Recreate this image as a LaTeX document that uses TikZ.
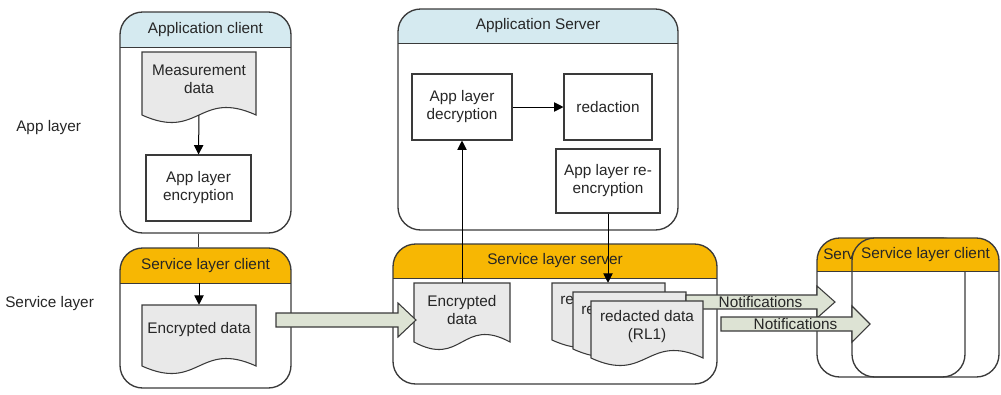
\documentclass[tikz,border=0pt]{standalone}
\usepackage{fontspec}
\setmainfont{Liberation Sans}
\usetikzlibrary{fit,arrows.meta}
\definecolor{hblue}{HTML}{D5EAF0}
\definecolor{horange}{HTML}{F7B703}
\definecolor{docgray}{HTML}{E9E9E9}
\definecolor{arrfill}{HTML}{DDE3D4}
\definecolor{edge}{HTML}{3A3A3A}
\definecolor{txt}{HTML}{262626}
\tikzset{
 panel/.style={draw=edge, line width=1pt, rounded corners=17pt, inner sep=0pt},
 lbl/.style={font=\fontsize{11.5}{13.5}\selectfont, text=txt, align=center, inner sep=0pt},
 procbox/.style={draw=edge, line width=0.8pt, fill=white, inner sep=0pt},
 docedge/.style={draw=edge, line width=0.8pt, fill=docgray},
 conn/.style={draw=black, line width=0.75pt, -{Triangle[length=7pt,width=7pt]}},
 plain/.style={draw=edge, line width=0.75pt},
 fatarrow/.style={draw=edge, line width=0.8pt, fill=arrfill},
}
% name x1 y1 x2 y2 yh color
\newcommand\panelframe[7]{%
 \begin{scope}
 \clip[rounded corners=17pt] (#2,#3) rectangle (#4,#5);
 \fill[#7] (#2,#3) rectangle (#4,#6);
 \end{scope}
 \draw[plain] (#2,#6) -- (#4,#6);
 \coordinate (#1-h) at (#2,#6);
 \node[panel, fit={(#2,#3) (#4,#5)}] (#1) {};
}
% name x1 y1 x2 y2 yh color title
\newcommand\panelbox[8]{%
 \panelframe{#1}{#2}{#3}{#4}{#5}{#6}{#7}
 \node[lbl] (#1-t) at ({(#2+#4)/2},{(#3+#6)/2}) {#8};
}
% name x1 y1 x2 yb
\newcommand\docpath[5]{%
 \path[docedge] (#2,#3) -- (#4,#3) -- (#4,#5) .. controls ({(#2+#4)/2},#5-26) and ({(#2+#4)/2},#5+26) .. (#2,#5) -- cycle;
 \node[inner sep=0pt, fit={(#2,#3) (#4,#5)}] (#1) {};
}
% name x1 y1 x2 yb texty text
\newcommand\docshape[7]{%
 \docpath{#1}{#2}{#3}{#4}{#5}
 \node[lbl] (#1-t) at ({(#2+#4)/2},#6) {#7};
}
% name x1 y1 x2 y2 text
\newcommand\pbox[6]{%
 \node[procbox, fit={(#2,#3) (#4,#5)}] (#1) {};
 \node[lbl] (#1-t) at (#1.center) {#6};
}
% name x1 yc xtip halfhead label
\newcommand\fatarrow[6]{%
 \coordinate (#1-s) at (#2,#3);
 \coordinate (#1-e) at (#4,#3);
 \path[fatarrow] (#2,#3-7) -- (#4-18,#3-7) -- (#4-18,#3-#5) -- (#1-e) -- (#4-18,#3+#5) -- (#4-18,#3+7) -- (#2,#3+7) -- cycle;
 \node[lbl] (#1-t) at ({(#2+#4)/2},#3) {#6};
}
\begin{document}
\begin{tikzpicture}[x=0.75pt,y=-0.75pt]
\useasboundingbox (0,0) rectangle (1001,394);

\node[lbl, anchor=west] (appL) at (16,128) {App layer};
\node[lbl, anchor=west] (svcL) at (5,304) {Service layer};

% Application client
\panelbox{ac}{120}{12}{291}{233}{47}{hblue}{Application client}
\docshape{md}{142}{52}{256}{115}{79}{Measurement\\data}
\pbox{enc}{146}{155}{251}{221}{App layer\\encryption}
\draw[conn] (md.south) -- (enc.north);

% Service layer client (left)
\panelbox{slc}{120}{248}{291}{388}{283}{horange}{Service layer client}
\docshape{ed1}{142}{305}{256}{366}{330}{Encrypted data}
\draw[plain] (enc.south |- ac.south) -- (enc.south |- slc.north);
\draw[conn] (ed1.north |- slc-h) -- (ed1.north);

% Application server
\panelbox{as}{398}{9}{678}{230}{43}{hblue}{Application Server}
\pbox{dec}{412}{74}{512}{140}{App layer\\decryption}
\pbox{red}{564}{74}{652}{140}{redaction}
\pbox{reenc}{556}{149}{660}{213}{App layer re-\\encryption}
\draw[conn] (dec.east) -- (red.west);

% Right service layer clients (back one mostly hidden)
\panelframe{slcb}{817}{238}{965}{377}{271}{horange}
\node[lbl, anchor=west] (slcb-t) at (823,254.5) {Serv};
\panelbox{slcf}{852}{238}{999}{377}{271}{horange}{Service layer client}

% Service layer server
\panelbox{sls}{393}{244}{717}{384}{278}{horange}{Service layer server}
\docshape{ed2}{414}{283}{510}{342}{310}{Encrypted\\data}
\docpath{rd1}{552}{283}{665}{340}
\node[lbl, anchor=west] (rd1-t) at (560,300) {re};
\docpath{rd2}{573}{292}{686}{349}
\node[lbl, anchor=west] (rd2-t) at (581,310) {re};
\fatarrow{n1}{686}{302}{835}{16}{Notifications}
\docshape{rd3}{591}{301}{703}{358}{327}{redacted data\\(RL1)}
\fatarrow{n2}{721}{324}{870}{18}{Notifications}

\draw[conn] (ed2.north) -- (dec.south);
\draw[conn] (reenc.south) -- (reenc.south |- rd1.north);

% transfer arrow
\fatarrow{tr}{276}{320}{416}{17}{}
\end{tikzpicture}
\end{document}
